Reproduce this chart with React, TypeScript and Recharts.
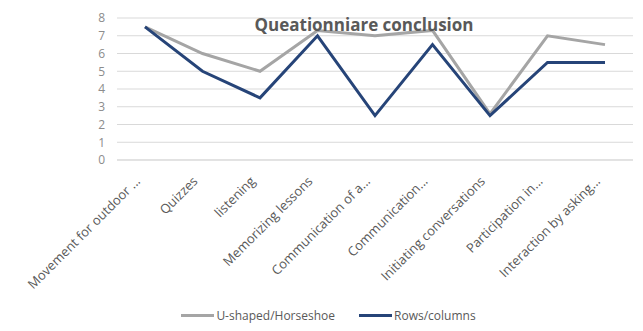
import { LineChart, Line, XAxis, YAxis, CartesianGrid, Legend } from 'recharts';

// categories (x axis)
const categories = [
  'Movement for outdoor ...',
  'Quizzes',
  'listening',
  'Memorizing lessons',
  'Communication of a...',
  'Communication...',
  'Initiating conversations',
  'Participation in...',
  'Interaction by asking...',
];

// series values
const uShaped = [7.5, 6, 5, 7.3, 7, 7.3, 2.6, 7, 6.5];
const rowsColumns = [7.5, 5, 3.5, 7, 2.5, 6.5, 2.5, 5.5, 5.5];

const yTicks = [0, 1, 2, 3, 4, 5, 6, 7, 8];

const seriesInfo = [
  { key: 'u', name: 'U-shaped/Horseshoe', color: '#a5a5a5' },
  { key: 'rows', name: 'Rows/columns', color: '#264478' },
];

const data = categories.map((name, i) => ({
  name,
  u: uShaped[i],
  rows: rowsColumns[i],
}));

const FONT = '"Open Sans", "Liberation Sans", sans-serif';

// rotated category label
const AngledTick = (props: any) => {
  const { x, y, payload } = props;
  return (
    <g transform={`translate(${x - 4},${y + 14})`}>
      <text
        x={0}
        y={0}
        textAnchor="end"
        transform="rotate(-45)"
        fill="#595959"
        fontSize={13}
        fontFamily={FONT}
      >
        {payload.value}
      </text>
    </g>
  );
};

// legend kept in series order
const LegendContent = () => (
  <div style={{ display: 'flex', justifyContent: 'center', gap: 24, fontFamily: FONT, fontSize: 12, color: '#595959', height: 20, alignItems: 'center', paddingLeft: 24 }}>
    {seriesInfo.map((s) => (
      <div key={s.key} style={{ display: 'flex', alignItems: 'center' }}>
        <span style={{ display: 'inline-block', width: 33, height: 3, background: s.color, marginRight: 2 }} />
        <span>{s.name}</span>
      </div>
    ))}
  </div>
);

export default function App() {
  return (
    <div style={{ position: 'absolute', left: 0, top: 0, width: 643, height: 331, background: '#fff' }}>
      <LineChart
        width={643}
        height={331}
        data={data}
        margin={{ top: 18, right: 10, left: 0, bottom: 6 }}
      >
        <CartesianGrid vertical={false} stroke="#d9d9d9" />
        <XAxis
          dataKey="name"
          interval={0}
          tick={<AngledTick />}
          tickLine={false}
          axisLine={{ stroke: '#d9d9d9' }}
          height={145}
          padding={{ left: 28, right: 28 }}
        />
        <YAxis
          domain={[0, 8]}
          ticks={yTicks}
          interval={0}
          width={117}
          tickLine={false}
          axisLine={false}
          tickMargin={6}
          tick={{ fill: '#8c8c8c', fontSize: 12, fontFamily: FONT }}
        />
        <Legend content={<LegendContent />} height={20} />
        {seriesInfo.map((s) => (
          <Line
            key={s.key}
            type="linear"
            dataKey={s.key}
            name={s.name}
            stroke={s.color}
            strokeWidth={3}
            dot={false}
            isAnimationActive={false}
          />
        ))}
      </LineChart>
      <div
        style={{
          position: 'absolute',
          left: 240,
          top: 13,
          width: 248,
          textAlign: 'center',
          fontFamily: FONT,
          fontWeight: 700,
          fontSize: 17,
          color: '#595959',
          whiteSpace: 'nowrap',
        }}
      >
        Queationniare conclusion
      </div>
    </div>
  );
}
